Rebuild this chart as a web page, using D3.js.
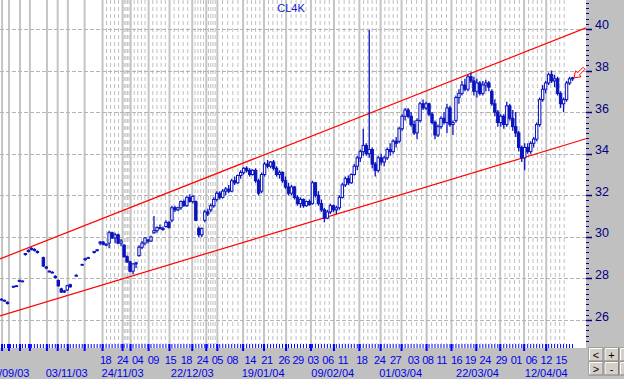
<!DOCTYPE html>
<html>
<head>
<meta charset="utf-8">
<script src="https://cdnjs.cloudflare.com/ajax/libs/d3/7.8.5/d3.min.js"></script>
<style>
html, body { margin:0; padding:0; background:#c0c0c0; overflow:hidden; }
svg { display:block; font-family: Arial, "Liberation Sans", sans-serif; }
</style>
</head>
<body>
<svg id="drawing_region"></svg>
<script>
// ---- data ----
const title = "CL4K";
const priceTicks = [26, 28, 30, 32, 34, 36, 38, 40];

// one candle per bar: [open, high, low, close]; null = no data
const bars = [
    // late Sep - mid Nov 2003
    [27.0,27.05,26.95,27.0],[26.92,26.98,26.88,26.95],[26.85,26.9,26.75,26.8],null,
    [27.6,27.65,27.55,27.62],[27.62,27.68,27.6,27.65],[27.9,27.95,27.85,27.9],[27.88,27.9,27.82,27.85],
    [29.15,29.2,29.1,29.2],[29.3,29.4,29.25,29.35],[29.4,29.5,29.35,29.45],[29.4,29.45,29.3,29.35],[29.3,29.35,29.2,29.25],null,
    [29.0,29.05,28.55,28.6],[28.55,28.6,28.45,28.5],[28.35,28.4,28.3,28.35],[28.3,28.35,28.25,28.3],[28.1,28.15,28.0,28.05],
    [27.9,27.95,27.6,27.65],[27.5,27.55,27.3,27.35],[27.35,27.45,27.3,27.4],[27.45,27.7,27.4,27.65],[27.7,27.75,27.55,27.6],null,
    [28.15,28.2,28.1,28.15],null,[28.65,28.7,28.6,28.68],[28.9,29.0,28.85,28.95],[29.0,29.05,28.95,29.0],null,
    [29.25,29.3,29.2,29.3],[29.35,29.4,29.3,29.38],
    // Nov - Dec 2003
    [29.7,29.8,29.6,29.75],[29.75,29.8,29.6,29.65],[29.6,29.7,29.55,29.65],[29.7,30.3,29.45,30.2],[30.2,30.25,29.9,29.95],
    [29.95,30.2,29.7,30.1],[30.1,30.15,29.65,29.7],[29.7,29.9,29.55,29.8],[29.6,29.65,29.0,29.05],[29.05,29.1,28.75,28.8],
    [28.8,28.85,28.3,28.35],[28.35,28.75,28.2,28.7],[28.7,28.8,28.5,28.75],[29.1,29.6,29.05,29.5],[29.5,29.8,29.4,29.7],
    [29.7,30.0,29.6,29.95],[29.85,29.9,29.7,29.8],[29.8,30.05,29.75,30.0],[30.2,31.0,30.15,30.3],[30.3,30.5,30.2,30.45],
    [30.45,30.6,30.35,30.4],[30.4,30.5,30.3,30.35],[30.5,30.8,30.45,30.7],[30.7,30.75,30.4,30.45],[30.8,31.5,30.7,31.4],
    [31.4,31.5,31.2,31.3],[31.3,31.45,31.25,31.4],[31.4,31.75,31.3,31.7],[31.7,31.8,31.45,31.5],[31.5,31.95,31.45,31.9],
    [31.9,32.05,31.65,31.7],[31.7,32.0,31.6,31.95],[31.7,31.75,30.75,30.8],[30.4,30.5,30.0,30.1],[30.1,30.45,30.0,30.4],
    [30.8,31.3,30.7,31.2],[31.2,31.35,31.0,31.1],
    // Jan 2004
    [31.3,31.6,31.2,31.5],[31.5,31.9,31.4,31.8],[31.8,32.2,31.7,32.1],[32.1,32.2,31.8,31.9],[31.9,32.3,31.85,32.2],
    [32.2,32.4,32.0,32.3],[32.3,32.5,32.1,32.2],[32.2,32.8,32.15,32.7],[32.7,32.9,32.5,32.6],[32.6,33.0,32.55,32.95],
    [32.95,33.2,32.8,33.1],[33.1,33.35,33.0,33.3],[33.3,33.4,33.1,33.2],[33.2,33.3,32.9,33.0],[33.0,33.25,32.95,33.2],
    [33.2,33.3,32.6,32.7],[32.7,32.8,32.0,32.1],[32.2,33.1,32.1,33.0],[33.0,33.6,32.9,33.5],[33.5,33.7,33.3,33.4],
    [33.4,33.65,33.3,33.6],[33.6,33.7,33.2,33.3],[33.3,33.4,32.9,33.0],[33.0,33.2,32.8,33.1],[33.1,33.15,32.6,32.7],
    [32.7,32.9,32.3,32.4],[32.4,32.6,32.0,32.1],[32.1,32.5,32.0,32.4],[32.4,32.45,31.8,31.9],[31.9,32.0,31.5,31.6],
    // Feb 2004
    [31.6,31.9,31.4,31.8],[31.8,31.85,31.4,31.5],[31.5,31.75,31.45,31.7],[31.7,31.8,31.5,31.55],[31.6,32.7,31.55,32.6],
    [32.6,32.65,31.9,32.0],[32.0,32.2,31.5,31.6],[31.6,31.8,31.2,31.3],[31.3,31.4,30.7,30.9],[30.9,31.3,30.85,31.2],
    [31.2,31.6,31.1,31.5],[31.5,31.55,31.2,31.3],[31.3,31.5,31.1,31.4],[31.4,32.0,31.3,31.9],[31.9,32.6,31.85,32.5],
    [32.5,32.9,32.4,32.8],[32.8,32.95,32.5,32.6],[32.6,33.05,32.55,33.0],[33.0,33.5,32.95,33.4],[33.4,33.9,33.2,33.8],
    [33.8,34.2,33.6,34.1],[34.1,35.2,33.9,34.4],[34.4,34.5,33.9,34.0],[34.0,39.95,33.8,34.2],[34.2,34.3,33.3,33.5],
    [33.5,33.6,32.9,33.2],[33.2,33.9,33.1,33.8],[33.8,34.0,33.45,33.6],[33.6,33.9,33.4,33.8],[33.8,34.3,33.7,34.2],
    [34.2,34.5,33.9,34.1],[34.1,34.7,34.0,34.6],[34.6,34.8,34.3,34.5],
    // Mar 2004
    [34.6,35.3,34.5,35.2],[35.2,35.9,35.1,35.8],[35.8,36.2,35.6,36.1],[36.1,36.2,35.7,35.8],[35.8,36.0,35.3,35.4],
    [35.4,35.6,34.9,35.0],[35.0,35.7,34.7,35.6],[35.6,36.5,35.5,36.4],[36.4,36.6,36.1,36.2],[36.2,36.5,36.1,36.4],
    [36.4,36.45,35.8,35.9],[35.9,36.0,35.4,35.5],[35.5,35.6,34.7,34.9],[34.9,35.4,34.8,35.3],[35.3,35.8,35.2,35.7],
    [35.7,36.0,35.4,35.5],[35.5,36.4,35.0,36.2],[36.2,36.3,35.3,35.4],[35.4,35.6,34.9,35.5],[35.6,36.8,35.5,36.7],
    [36.7,37.1,36.4,36.9],[36.9,37.5,36.8,37.3],[37.3,37.6,37.0,37.1],[37.1,37.8,37.0,37.7],[37.7,37.9,37.4,37.5],
    [37.5,37.7,36.8,37.0],[37.0,37.6,36.7,37.4],[37.4,37.5,36.8,36.9],[36.9,37.5,36.8,37.3],[37.3,37.55,37.0,37.4],
    [37.4,37.5,37.0,37.2],[37.0,37.1,36.3,36.4],[36.4,36.6,35.8,36.0],[36.0,36.1,35.3,35.5],[35.5,35.9,35.3,35.8],
    [35.8,35.9,35.2,35.4],[35.4,36.5,35.3,36.3],[36.3,36.4,35.6,35.7],[35.7,36.1,35.1,35.3],[35.3,36.0,34.8,35.0],
    // Apr 2004
    [35.0,35.1,34.1,34.3],[34.3,34.4,33.6,33.8],[33.8,34.5,33.2,34.3],[34.3,34.5,34.0,34.1],[34.1,34.6,34.0,34.5],
    [34.5,34.8,34.3,34.7],[34.7,35.5,34.6,35.4],[35.4,36.7,35.3,36.6],[36.6,37.3,36.5,37.1],[37.1,37.5,36.9,37.4],
    [37.4,37.9,37.3,37.8],[37.8,38.0,37.4,37.5],[37.5,37.8,37.2,37.6],[37.6,37.7,36.8,36.9],[36.9,37.0,36.2,36.4],
    [36.4,36.7,36.0,36.6],[36.6,37.5,36.5,37.4],[37.4,37.7,37.3,37.6],[37.6,37.7,37.5,37.65]
];

// bar position of the first session of each week (solid grid lines)
const weekStarts = [0.2, 2.5, 6.2, 9.5, 15.2, 18.8, 22.2, 27.8, 33.8, 40.5, 43.2, 49.2, 56.2, 63.8,
                    68.5, 72.2, 80.8, 87.8, 95.2, 103.5, 111.2, 119.7, 126.8, 133.8, 142.2, 150.5,
                    158.8, 166.8, 174.8, 182.2];
const nextWeekStart = 189.7;
const firstIntradayWeek = 33.8;

const dayLabels = ["18","24","04","09","15","18","24","05","08","14","21","26","29","03","06",
                   "11","18","24","27","03","08","11","16","19","24","29","01","06","12","15"];
const dayLabelBars = [34.8, 40.5, 45.5, 50.8, 56.5, 61.8, 67.2, 72.2, 77.2, 83.2, 88.8, 94.5, 99.2,
                      104.2, 109.2, 114.2, 120.5, 126.5, 131.8, 137.8, 142.6, 147.2, 152.2, 156.8,
                      161.8, 167.2, 172.2, 177.2, 182.2, 187.2];
const dateLabels = ["29/09/03","03/11/03","24/11/03","22/12/03","19/01/04","09/02/04","01/03/04","22/03/04","12/04/04"];
const dateLabelBars = [2.2, 21.8, 40.5, 63.8, 87.5, 110.8, 133.5, 159.2, 182.2];

// trend channel, [bar, price] end points
const channelUpper = [[-0.5, 28.94], [195.5, 40.05]];
const channelLower = [[-0.5, 26.2], [195.5, 34.72]];

const buttonLabels = ["<", "+", "", ">", "-", ""];

// ---- drawing ----
const W = 624, H = 379;
const plot = {left:0, top:0, right:586, bottom:344};
const blue = "#0a14be";

const svg = d3.select("#drawing_region").attr("width", W).attr("height", H);

svg.append("rect").attr("width", W).attr("height", H).attr("fill", "#c0c0c0");
svg.append("rect").attr("x", 0).attr("y", 0).attr("width", plot.right).attr("height", 348).attr("fill", "#fff");

const x = d3.scaleLinear().domain([-0.5, 195.5]).range([plot.left, plot.right]);
const y = d3.scaleLinear().domain([24.85, 41.39]).range([plot.bottom, plot.top]);

svg.append("clipPath").attr("id", "clip")
    .append("rect").attr("width", plot.right).attr("height", plot.bottom);

const grid = svg.append("g");

// dashed day lines inside each week of the intraday part
let dayLines = [];
const wk = weekStarts.concat([nextWeekStart]);
for (let k = 0; k < wk.length - 1; k++) {
    if (wk[k] < firstIntradayWeek) continue;
    for (let j = 1; j < 5; j++) dayLines.push(wk[k] + (wk[k+1] - wk[k]) * j / 5);
}

grid.selectAll("line.day").data(dayLines).enter().append("line")
    .attr("x1", d => x(d)).attr("x2", d => x(d))
    .attr("y1", 0).attr("y2", plot.bottom)
    .attr("stroke", "#c0c0c0").attr("stroke-width", 1).attr("stroke-dasharray", "4,3");

grid.selectAll("line.week").data(weekStarts).enter().append("line")
    .attr("x1", d => x(d)).attr("x2", d => x(d))
    .attr("y1", 0).attr("y2", plot.bottom)
    .attr("stroke", "#c4c4c4").attr("stroke-width", 2);

grid.selectAll("line.price").data(priceTicks).enter().append("line")
    .attr("x1", 0).attr("x2", plot.right)
    .attr("y1", d => Math.round(y(d)) + 0.5).attr("y2", d => Math.round(y(d)) + 0.5)
    .attr("stroke", "#b4b4b4").attr("stroke-width", 1).attr("stroke-dasharray", "4,2");

// title
svg.append("text").attr("x", 291).attr("y", 12).attr("text-anchor", "middle")
    .attr("font-size", 11).attr("fill", "#1020c8").text(title);

// channel
const chart = svg.append("g").attr("clip-path", "url(#clip)");
const line = d3.line().x(d => x(d[0])).y(d => y(d[1]));
[channelUpper, channelLower].forEach(c => {
    chart.append("path").attr("d", line(c))
        .attr("fill", "none").attr("stroke", "#ff0000").attr("stroke-width", 1.2);
});

// candles
const candles = bars.map((b, i) => b ? {i, o:b[0], h:b[1], l:b[2], c:b[3]} : null).filter(d => d);

chart.selectAll("line.wick").data(candles).enter().append("line")
    .attr("x1", d => x(d.i)).attr("x2", d => x(d.i))
    .attr("y1", d => y(d.h)).attr("y2", d => y(d.l))
    .attr("stroke", blue).attr("stroke-width", 1.3);

chart.selectAll("rect.body").data(candles).enter().append("rect")
    .attr("x", d => x(d.i) - 1.2).attr("width", 2.4)
    .attr("y", d => y(Math.max(d.o, d.c)))
    .attr("height", d => Math.max(0.8, Math.abs(y(d.o) - y(d.c))))
    .attr("fill", d => d.c >= d.o ? "#fff" : blue)
    .attr("stroke", blue).attr("stroke-width", 1);

// arrow at last price
const last = candles[candles.length - 1];
svg.append("path")
    .attr("transform", `translate(${x(last.i) + 1.5},${y(last.c)})`)
    .attr("d", "M0,0 L1.5,-7 L3.5,-5 L9,-10.5 L11,-8.5 L5.5,-3 L7,-1 Z")
    .attr("fill", "#fff").attr("stroke", "#ff0000").attr("stroke-width", 1);

// right axis
const axisR = svg.append("g");
const minor = d3.range(25, 41.3, 0.25).filter(v => priceTicks.indexOf(v) < 0);
axisR.selectAll("line.minor").data(minor).enter().append("line")
    .attr("x1", plot.right).attr("x2", plot.right + 3)
    .attr("y1", d => Math.round(y(d)) + 0.5).attr("y2", d => Math.round(y(d)) + 0.5)
    .attr("stroke", "#000080").attr("stroke-width", 1);
axisR.selectAll("line.major").data(priceTicks).enter().append("line")
    .attr("x1", plot.right).attr("x2", plot.right + 6)
    .attr("y1", d => Math.round(y(d)) + 0.5).attr("y2", d => Math.round(y(d)) + 0.5)
    .attr("stroke", "#000080").attr("stroke-width", 1.5);
axisR.selectAll("text").data(priceTicks).enter().append("text")
    .attr("x", plot.right + 9).attr("y", d => y(d) + 0.5)
    .attr("font-size", 12.5).attr("fill", "#000080").text(d => d);

// bottom tick row
const axisB = svg.append("g");
axisB.selectAll("line.bar").data(d3.range(bars.length)).enter().append("line")
    .attr("x1", d => x(d)).attr("x2", d => x(d))
    .attr("y1", 344).attr("y2", 348)
    .attr("stroke", "#0000ff").attr("stroke-width", 1);
axisB.selectAll("line.wk").data(weekStarts).enter().append("line")
    .attr("x1", d => x(d)).attr("x2", d => x(d))
    .attr("y1", 344).attr("y2", 351)
    .attr("stroke", "#0000ff").attr("stroke-width", 2);

axisB.selectAll("text.day").data(dayLabels).enter().append("text")
    .attr("x", (d, i) => x(dayLabelBars[i])).attr("y", 364)
    .attr("text-anchor", "middle").attr("font-size", 11).attr("letter-spacing", "-0.5px")
    .attr("fill", "#0000ee").text(d => d);
axisB.selectAll("text.date").data(dateLabels).enter().append("text")
    .attr("x", (d, i) => x(dateLabelBars[i])).attr("y", 377)
    .attr("text-anchor", "middle").attr("font-size", 11).attr("fill", "#0000ee").text(d => d);

// scroll / zoom buttons
const btn = svg.append("g").selectAll("g").data(buttonLabels).enter().append("g")
    .attr("transform", (d, i) => `translate(${589 + (i % 3) * 15.5},${348 + Math.floor(i / 3) * 14})`);
btn.append("rect").attr("width", 14).attr("height", 13).attr("fill", "#d4d0c8")
    .attr("stroke", "#808080").attr("stroke-width", 1);
btn.append("path").attr("d", "M0.5,12.5 V0.5 H13.5").attr("fill", "none").attr("stroke", "#fff");
btn.append("text").attr("x", 7).attr("y", 10.5).attr("text-anchor", "middle")
    .attr("font-size", 11).attr("fill", "#000").text(d => d);
</script>
</body>
</html>
